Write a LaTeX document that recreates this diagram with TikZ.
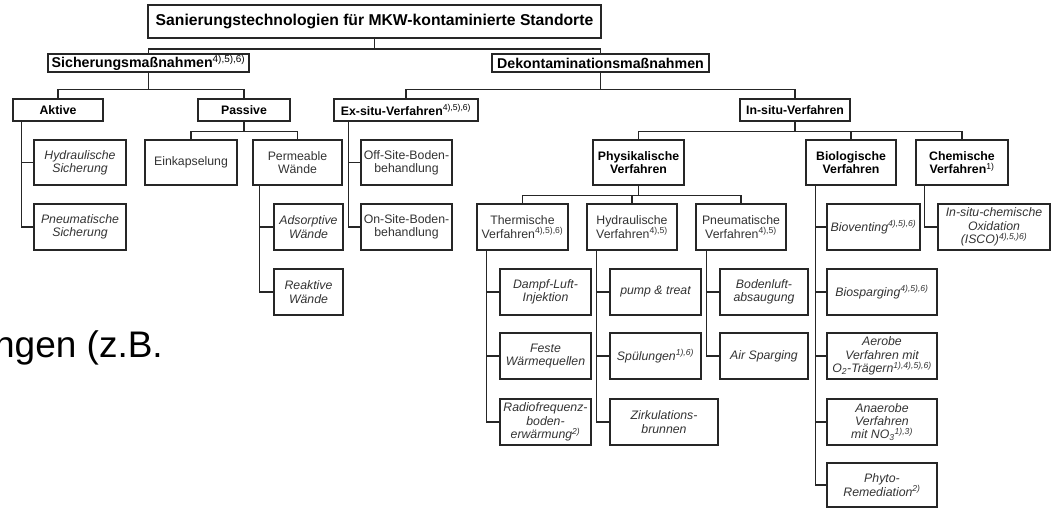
\documentclass[tikz,border=0pt]{standalone}
\usepackage{fontspec}
\setmainfont{Liberation Sans}
\newcommand\bx[7]{\node[box,#6,minimum width=#4pt,minimum height=#5pt] (#1) at (#2,#3) {#7};}
\newcommand\sups[1]{\textsuperscript{#1}}
\newcommand\nsups[1]{\textsuperscript{\normalfont #1}}
\begin{document}
\begin{tikzpicture}[x=1pt,y=-1pt,
  box/.style={draw=black!85, line width=1.2pt, fill=white, inner sep=0pt, align=center},
  ttl/.style={font=\fontsize{15.7}{18}\selectfont\bfseries, text=black},
  lone/.style={font=\fontsize{14.2}{16}\selectfont\bfseries, text=black},
  bld/.style={font=\fontsize{12.3}{13.3}\selectfont\bfseries, text=black},
  rg/.style={font=\fontsize{12.3}{13.3}\selectfont, text=black!80},
  it/.style={font=\fontsize{12.3}{13.3}\selectfont\itshape, text=black!80},
  conn/.style={draw=black!85, line width=1.2pt}]
\useasboundingbox (0,0) rectangle (1058,508);
% background text
\begin{scope}
\clip (0,0) rectangle (1058,508);
\node[anchor=base east, inner sep=0pt, font=\fontsize{37}{42}\selectfont, text=black] (bgtext) at (163,357) {ngen (z.B.};
\end{scope}
% boxes
\bx{title}{374.5}{21.5}{453}{33}{ttl}{Sanierungstechnologien für MKW-kontaminierte Standorte}
\bx{sich}{148.5}{63}{201}{18}{lone}{Sicherungsmaßnahmen\nsups{4),5),6)}}
\bx{dekon}{600.5}{63}{217}{18}{lone}{Dekontaminationsmaßnahmen}
\bx{aktive}{58}{110}{90}{22}{bld}{Aktive}
\bx{passive}{244}{110}{92}{22}{bld}{Passive}
\bx{exsitu}{406}{110}{144}{22}{bld}{Ex-situ-Verfahren\nsups{4),5),6)}}
\bx{insitu}{795}{110}{110}{22}{bld}{In-situ-Verfahren}
% level 3
\bx{hydsich}{80}{162.5}{92}{45}{it}{Hydraulische\\Sicherung}
\bx{einkap}{191}{162.5}{92}{45}{rg}{Einkapselung}
\bx{permeab}{297.5}{162.5}{89}{45}{rg}{Permeable\\Wände}
\bx{offsite}{406.5}{162.5}{91}{45}{rg}{Off-Site-Boden-\\behandlung}
\bx{physik}{638.5}{162.5}{91}{45}{bld}{Physikalische\\Verfahren}
\bx{biolog}{851}{162.5}{90}{45}{bld}{Biologische\\Verfahren}
\bx{chem}{962}{162.5}{92}{45}{bld}{Chemische\\Verfahren\nsups{1)}}
% level 4
\bx{pneusich}{80}{227}{92}{46}{it}{Pneumatische\\Sicherung}
\bx{adsorp}{308.5}{227}{69}{46}{it}{Adsorptive\\Wände}
\bx{onsite}{406.5}{227}{91}{46}{rg}{On-Site-Boden-\\behandlung}
\bx{therm}{522.5}{227}{91}{46}{rg}{Thermische\\Verfahren\sups{4),5),6)}}
\bx{hydverf}{632}{227}{90}{46}{rg}{Hydraulische\\Verfahren\sups{4),5)}}
\bx{pneuverf}{741}{227}{90}{46}{rg}{Pneumatische\\Verfahren\sups{4),5)}}
\bx{biovent}{873.5}{227}{93}{46}{it}{Bioventing\sups{4),5),6)}}
\bx{isco}{994}{227}{112}{46}{it}{In-situ-chemische\\Oxidation\\(ISCO)\sups{4),5,)6)}}
% level 5
\bx{reakt}{308.5}{292}{69}{46}{it}{Reaktive\\Wände}
\bx{dampf}{545.5}{292}{91}{46}{it}{Dampf-Luft-\\Injektion}
\bx{pump}{655.5}{292}{91}{46}{it}{pump \& treat}
\bx{bodenluft}{764}{292}{88}{46}{it}{Bodenluft-\\absaugung}
\bx{biosparg}{882}{292}{110}{46}{it}{Biosparging\sups{4),5),6)}}
% level 6
\bx{feste}{545.5}{356}{91}{46}{it}{Feste\\Wärmequellen}
\bx{spuel}{655.5}{356}{91}{46}{it}{Spülungen\sups{1),6)}}
\bx{airsp}{764}{356}{88}{46}{it}{Air Sparging}
\bx{aerobe}{882}{356}{110}{46}{it}{Aerobe\\Verfahren mit\\O\textsubscript{2}-Trägern\sups{1),4),5),6)}}
% level 7
\bx{radio}{545.5}{422}{91}{46}{it}{Radiofrequenz-\\boden-\\erwärmung\sups{2)}}
\bx{zirk}{664}{422}{108}{46}{it}{Zirkulations-\\brunnen}
\bx{anaer}{882}{422}{110}{46}{it}{Anaerobe\\Verfahren\\mit NO\textsubscript{3}\sups{1),3)}}
% level 8
\bx{phyto}{882}{485}{110}{44}{it}{Phyto-\\Remediation\sups{2)}}
% connectors
\draw[conn] (title.south) -- ++(0,10.5) -| (sich.north);
\draw[conn] (title.south) -- ++(0,10.5) -| (dekon.north);
\draw[conn] (sich.south) -- ++(0,17) -| (aktive.north);
\draw[conn] (sich.south) -- ++(0,17) -| (passive.north);
\draw[conn] (dekon.south) -- ++(0,17) -| (exsitu.north);
\draw[conn] (dekon.south) -- ++(0,17) -| (insitu.north);
\draw[conn] ([xshift=9pt]aktive.south west) |- (hydsich.west);
\draw[conn] ([xshift=9pt]aktive.south west) |- (pneusich.west);
\draw[conn] (passive.south) -- ++(0,10) -| (einkap.north);
\draw[conn] (passive.south) -- ++(0,10) -| (permeab.north);
\draw[conn] ([xshift=7pt]permeab.south west) |- (adsorp.west);
\draw[conn] ([xshift=7pt]permeab.south west) |- (reakt.west);
\draw[conn] ([xshift=15pt]exsitu.south west) |- (offsite.west);
\draw[conn] ([xshift=15pt]exsitu.south west) |- (onsite.west);
\draw[conn] (insitu.south) -- ++(0,10) -| (physik.north);
\draw[conn] (insitu.south) -- ++(0,10) -| (biolog.north);
\draw[conn] (insitu.south) -- ++(0,10) -| (chem.north);
\draw[conn] (physik.south) -- ++(0,10) -| (therm.north);
\draw[conn] (physik.south) -- ++(0,10) -| (hydverf.north);
\draw[conn] (physik.south) -- ++(0,10) -| (pneuverf.north);
\draw[conn] ([xshift=10pt]therm.south west) |- (dampf.west);
\draw[conn] ([xshift=10pt]therm.south west) |- (feste.west);
\draw[conn] ([xshift=10pt]therm.south west) |- (radio.west);
\draw[conn] ([xshift=10pt]hydverf.south west) |- (pump.west);
\draw[conn] ([xshift=10pt]hydverf.south west) |- (spuel.west);
\draw[conn] ([xshift=10pt]hydverf.south west) |- (zirk.west);
\draw[conn] ([xshift=11pt]pneuverf.south west) |- (bodenluft.west);
\draw[conn] ([xshift=11pt]pneuverf.south west) |- (airsp.west);
\draw[conn] ([xshift=10pt]biolog.south west) |- (biovent.west);
\draw[conn] ([xshift=10pt]biolog.south west) |- (biosparg.west);
\draw[conn] ([xshift=10pt]biolog.south west) |- (aerobe.west);
\draw[conn] ([xshift=10pt]biolog.south west) |- (anaer.west);
\draw[conn] ([xshift=10pt]biolog.south west) |- (phyto.west);
\draw[conn] ([xshift=9pt]chem.south west) |- (isco.west);
\end{tikzpicture}
\end{document}
